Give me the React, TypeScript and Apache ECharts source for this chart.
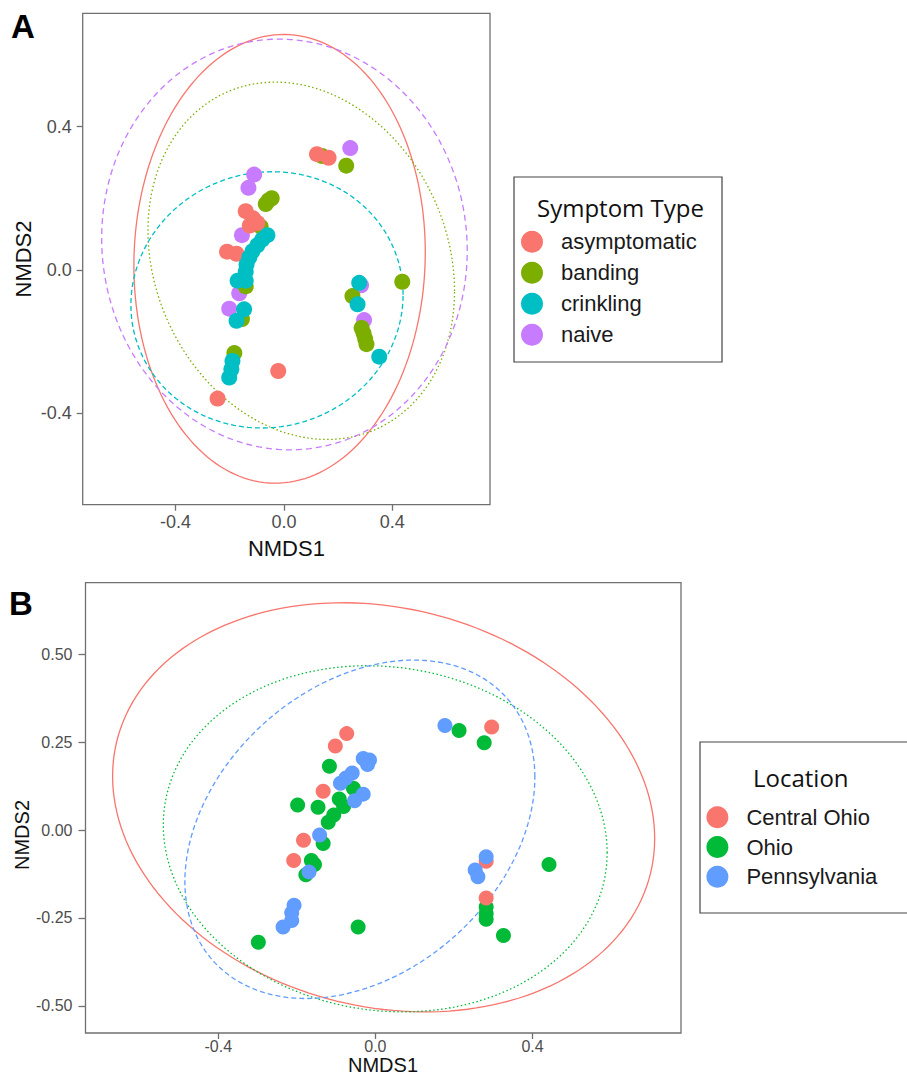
import React, { useEffect, useRef } from "react";
import * as echarts from "echarts";

// ---------- Panel A data (NMDS1, NMDS2) ----------
const A_GROUPS = ["asymptomatic", "banding", "crinkling", "naive"];
const A_COLORS = ["#F8766D", "#7CAE00", "#00BFC4", "#C77CFF"];
const A_asymptomatic = [
  [0.122, 0.323], [0.165, 0.313], [-0.141, 0.164], [-0.114, 0.144], [-0.098, 0.131],
  [-0.126, 0.124], [-0.21, 0.051], [-0.175, 0.045], [-0.021, -0.282], [-0.245, -0.359],
];
const A_banding = [
  [0.141, 0.318], [0.23, 0.291], [-0.057, 0.194], [-0.045, 0.2], [-0.067, 0.184],
  [-0.086, 0.121], [-0.141, -0.046], [-0.155, -0.137], [-0.183, -0.232], [0.253, -0.073],
  [0.287, -0.162], [0.294, -0.177], [0.3, -0.192], [0.305, -0.207], [0.437, -0.033],
];
const A_crinkling = [
  [-0.061, 0.097], [-0.08, 0.085], [-0.098, 0.069], [-0.116, 0.052], [-0.128, 0.035],
  [-0.138, 0.015], [-0.141, -0.005], [-0.171, -0.03], [-0.141, -0.03], [-0.147, -0.11],
  [-0.175, -0.142], [-0.19, -0.254], [-0.194, -0.277], [-0.202, -0.3], [0.278, -0.036],
  [0.272, -0.096], [0.352, -0.242],
];
const A_naive = [
  [0.245, 0.34], [-0.11, 0.266], [-0.131, 0.229], [-0.155, 0.097], [-0.165, -0.065],
  [-0.202, -0.108], [0.285, -0.043], [0.296, -0.14],
];
// ellipse params: [cx, cy, rx, ry, phase]
const A_ELLIPSES = [
  [-0.016, 0.031, 0.538, 0.626, 0.03],
  [0.064, 0.0255, 0.566, 0.4985, -0.17],
  [-0.0625, -0.0835, 0.5025, 0.3575, 0.04],
  [0.002, 0.071, 0.675, 0.573, -0.03],
];
const A_DASH = [null, [1.5, 2.5], [5, 3], [6, 4]];
const A_X_TICKS = [-0.4, 0, 0.4];
const A_Y_TICKS = [-0.4, 0, 0.4];

// ---------- Panel B data ----------
const B_GROUPS = ["Central Ohio", "Ohio", "Pennsylvania"];
const B_COLORS = ["#F8766D", "#00BA38", "#619CFF"];
const B_central = [
  [-0.073, 0.274], [-0.102, 0.239], [-0.133, 0.11], [-0.183, -0.029], [-0.208, -0.087],
  [0.296, 0.293], [0.282, -0.089], [0.282, -0.193],
];
const B_ohio = [
  [-0.117, 0.181], [-0.056, 0.119], [-0.198, 0.071], [-0.146, 0.065], [-0.092, 0.088],
  [-0.081, 0.067], [-0.106, 0.043], [-0.12, 0.022], [-0.133, -0.038], [-0.163, -0.087],
  [-0.155, -0.098], [-0.177, -0.127], [-0.298, -0.319], [-0.044, -0.276], [0.213, 0.283],
  [0.277, 0.248], [0.282, -0.219], [0.282, -0.238], [0.282, -0.254], [0.326, -0.3],
  [0.442, -0.098],
];
const B_penn = [
  [0.177, 0.297], [-0.031, 0.203], [-0.015, 0.199], [-0.02, 0.186], [-0.059, 0.162],
  [-0.075, 0.148], [-0.089, 0.133], [-0.031, 0.102], [-0.053, 0.083], [-0.142, -0.014],
  [-0.169, -0.119], [0.282, -0.076], [0.254, -0.114], [0.261, -0.133], [-0.207, -0.214],
  [-0.213, -0.235], [-0.213, -0.257], [-0.235, -0.276],
];
const B_ELLIPSES = [
  [0.021, 0.0645, 0.69, 0.5815, -0.153],
  [0.025, -0.025, 0.565, 0.492, -0.08],
  [-0.0395, 0.002, 0.4455, 0.481, 0.314],
];
const B_DASH = [null, [1.5, 2.5], [5, 3]];
const B_X_TICKS = [-0.4, 0, 0.4];
const B_Y_TICKS = [-0.5, -0.25, 0, 0.25, 0.5];

const FONT = "Liberation Sans, Arial, sans-serif";
const TITLE_FONT = "Open Sans, Liberation Sans, sans-serif";
const AXIS_COLOR = "#707070";

function ellipseSeries(name: string, params: number[], color: string, dash: any, gi: number) {
  return {
    type: "custom",
    name,
    coordinateSystem: "cartesian2d",
    xAxisIndex: gi,
    yAxisIndex: gi,
    silent: true,
    z: 1,
    data: [params],
    encode: { x: 0, y: 1 },
    renderItem: (_p: any, api: any) => {
      const cx = api.value(0), cy = api.value(1), rx = api.value(2), ry = api.value(3), ph = api.value(4);
      const pts: number[][] = [];
      const n = 180;
      for (let i = 0; i <= n; i++) {
        const t = (i / n) * Math.PI * 2;
        pts.push(api.coord([cx + rx * Math.cos(t), cy + ry * Math.sin(t + ph)]));
      }
      return {
        type: "polyline",
        shape: { points: pts },
        style: { stroke: color, fill: "none", lineWidth: 1.3, lineDash: dash || undefined },
      };
    },
  };
}

function scatter(name: string, data: number[][], color: string, gi: number, size: number, z: number) {
  return {
    type: "scatter",
    name,
    xAxisIndex: gi,
    yAxisIndex: gi,
    data,
    symbol: "circle",
    symbolSize: size,
    z,
    itemStyle: { color, opacity: 1 },
  };
}

function axisCommon(ticks: number[], digits: number, fontSize: number, margin: number, tickLen: number) {
  return {
    type: "value",
    splitLine: { show: false },
    axisLine: { show: false, onZero: false },
    axisTick: { show: true, customValues: ticks, length: tickLen, lineStyle: { color: AXIS_COLOR, width: 1.3 } },
    axisLabel: {
      customValues: ticks,
      formatter: (v: number) => v.toFixed(digits),
      color: "#4D4D4D",
      fontSize,
      fontFamily: FONT,
      margin,
    },
  };
}

export default function App() {
  const ref = useRef<HTMLDivElement>(null);
  useEffect(() => {
    if (!ref.current) return;
    const chart = echarts.init(ref.current, undefined, { renderer: "svg" });
    const aSeriesData = [A_asymptomatic, A_banding, A_crinkling, A_naive];
    const bSeriesData = [B_central, B_ohio, B_penn];
    const aOrder = [3, 1, 0, 2]; // draw order: naive, banding, asymptomatic, crinkling
    const bOrder = [1, 0, 2];
    const series: any[] = [];
    A_GROUPS.forEach((g, i) => series.push(ellipseSeries(g + " ellipse", A_ELLIPSES[i], A_COLORS[i], A_DASH[i], 0)));
    B_GROUPS.forEach((g, i) => series.push(ellipseSeries(g + " ellipse", B_ELLIPSES[i], B_COLORS[i], B_DASH[i], 1)));
    aOrder.forEach((i, k) => series.push(scatter(A_GROUPS[i], aSeriesData[i], A_COLORS[i], 0, 16, 3 + k * 0.01)));
    bOrder.forEach((i, k) => series.push(scatter(B_GROUPS[i], bSeriesData[i], B_COLORS[i], 1, 15, 3 + k * 0.01)));

    const option: any = {
      animation: false,
      backgroundColor: "#ffffff",
      grid: [
        { left: 82.7, top: 13.3, width: 407.3, height: 491.4, show: true, borderColor: AXIS_COLOR, borderWidth: 1.3, backgroundColor: "transparent", outerBoundsMode: "none" },
        { left: 85.5, top: 582.7, width: 595.5, height: 450.3, show: true, borderColor: AXIS_COLOR, borderWidth: 1.3, backgroundColor: "transparent", outerBoundsMode: "none" },
      ],
      xAxis: [
        { ...axisCommon(A_X_TICKS, 1, 18, 8, 6), gridIndex: 0, position: "bottom", min: -0.743, max: 0.761 },
        { ...axisCommon(B_X_TICKS, 1, 16, 5, 6), gridIndex: 1, position: "bottom", min: -0.738, max: 0.778 },
      ],
      yAxis: [
        { ...axisCommon(A_Y_TICKS, 1, 18, 11, 6), gridIndex: 0, position: "left", min: -0.655, max: 0.716 },
        { ...axisCommon(B_Y_TICKS, 2, 16, 13, 7), gridIndex: 1, position: "left", min: -0.577, max: 0.703 },
      ],
      legend: [
        {
          orient: "vertical",
          left: 521,
          top: 230.7,
          itemWidth: 48,
          itemHeight: 22,
          itemGap: 9,
          icon: "circle",
          padding: 0,
          selectedMode: false,
          data: A_GROUPS,
          textStyle: { fontSize: 22, fontFamily: FONT, color: "#1a1a1a", lineHeight: 22 },
        },
        {
          orient: "vertical",
          left: 706.4,
          top: 806.3,
          itemWidth: 48,
          itemHeight: 22,
          itemGap: 7.7,
          icon: "circle",
          padding: 0,
          selectedMode: false,
          data: B_GROUPS,
          textStyle: { fontSize: 22, fontFamily: FONT, color: "#1a1a1a", lineHeight: 22 },
        },
      ],
      graphic: [
        { type: "text", x: 11, y: 26, style: { text: "A", font: "bold 33px Liberation Sans, Arial, sans-serif", fill: "#000", verticalAlign: "middle" } },
        { type: "text", x: 9, y: 603, style: { text: "B", font: "bold 33px Liberation Sans, Arial, sans-serif", fill: "#000", verticalAlign: "middle" } },
        { type: "text", x: 286.4, y: 548, style: { text: "NMDS1", fontSize: 22, fontFamily: FONT, fill: "#111", align: "center", verticalAlign: "middle" } },
        { type: "text", x: 23, y: 259, rotation: Math.PI / 2, style: { text: "NMDS2", fontSize: 22, fontFamily: FONT, fill: "#111", align: "center", verticalAlign: "middle" } },
        { type: "text", x: 383, y: 1065, style: { text: "NMDS1", fontSize: 20, fontFamily: FONT, fill: "#111", align: "center", verticalAlign: "middle" } },
        { type: "text", x: 22, y: 835, rotation: Math.PI / 2, style: { text: "NMDS2", fontSize: 20, fontFamily: FONT, fill: "#111", align: "center", verticalAlign: "middle" } },
        { type: "rect", shape: { x: 514, y: 177, width: 208, height: 185 }, style: { fill: "none", stroke: "#444", lineWidth: 1.2 } },
        { type: "text", x: 537, y: 207, style: { text: "Symptom Type", fontSize: 24, fontFamily: TITLE_FONT, fill: "#111", align: "left", verticalAlign: "middle" } },
        { type: "rect", shape: { x: 700, y: 742, width: 230, height: 171 }, style: { fill: "none", stroke: "#444", lineWidth: 1.2 } },
        { type: "text", x: 753, y: 777, style: { text: "Location", fontSize: 24, fontFamily: TITLE_FONT, fill: "#111", align: "left", verticalAlign: "middle" } },
      ],
      series,
    };
    chart.setOption(option);
    return () => chart.dispose();
  }, []);
  return <div ref={ref} style={{ position: "absolute", left: 0, top: 0, width: 907, height: 1076 }} />;
}
